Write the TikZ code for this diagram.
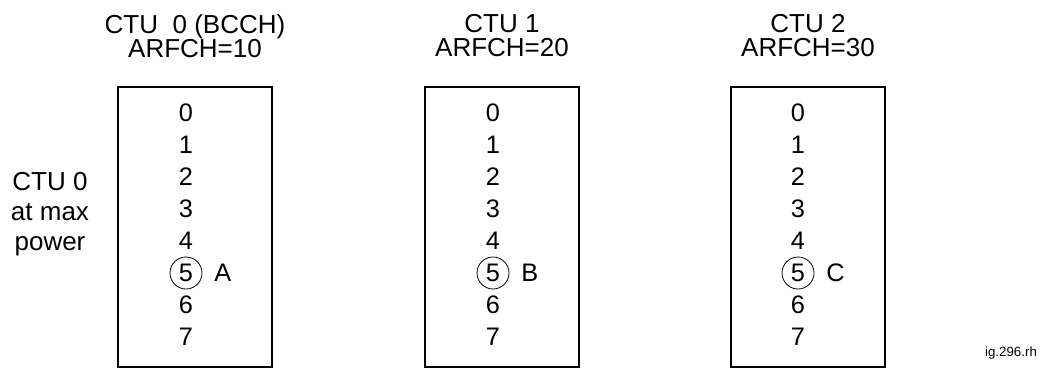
\documentclass[tikz,border=0pt]{standalone}
\usepackage{fontspec}
\setmainfont{Liberation Sans}
\usetikzlibrary{positioning}
\tikzset{
	ctubox/.style = {draw, line width = 0.9pt, minimum width = 115.5pt, minimum height = 210pt, inner sep = 0pt},
	ctutitle/.style = {align = center, font = \fontsize{19.5}{18}\selectfont, inner sep = 0pt},
	sidenote/.style = {align = center, font = \fontsize{19.5}{22.5}\selectfont, inner sep = 0pt},
	slotnum/.style = {font = \fontsize{19}{20}\selectfont, inner sep = 0pt},
	busyslot/.style = {circle, draw, line width = 0.6pt, minimum size = 24pt, inner sep = 0pt},
	figtag/.style = {font = \fontsize{10}{12}\selectfont, inner sep = 0pt}
}
\begin{document}
\begin{tikzpicture} [x = 0.75pt, y = -0.75pt]
	\useasboundingbox (0,0) rectangle (1048,371);
	% the three CTU boxes
	\node [ctubox] (box0) at (195,227) {};
	\node [ctubox] (box1) at (502,227) {};
	\node [ctubox] (box2) at (808,227) {};
	\node [ctutitle] (title0) at (195,36) {CTU \ 0 (BCCH)\\ARFCH=10};
	\node [ctutitle] (title1) at (502,36) {CTU 1\\ARFCH=20};
	\node [ctutitle] (title2) at (808,36) {CTU 2\\ARFCH=30};
	\node [sidenote] (maxpower) at (50,214) {CTU 0\\at max\\power};
	% time slots
	\foreach \b/\x/\lbl in {0/186/A, 1/493/B, 2/798/C} {
		\foreach \s in {0,1,2,3,4,6,7}
			\node [slotnum] (slot\b-\s) at (\x,113+32*\s) {\s};
		\node [slotnum, busyslot] (slot\b-5) at (\x,273) {5};
		\node [slotnum, right = 21pt of slot\b-5.center, anchor = west] (mark\b) {\lbl};
	}
	\node [figtag] (tag) at (1011,353) {ig.296.rh};
\end{tikzpicture}
\end{document}
